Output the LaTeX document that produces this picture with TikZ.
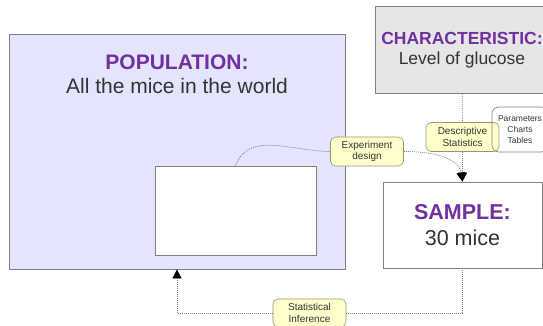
\documentclass[tikz,border=0pt]{standalone}
\usepackage{fontspec}
\setmainfont{Liberation Sans}
\usetikzlibrary{arrows.meta}
\definecolor{popfill}{RGB}{228,228,252}
\definecolor{charfill}{RGB}{230,230,230}
\definecolor{tagfill}{RGB}{255,255,204}
\definecolor{tagline}{RGB}{150,150,110}
\definecolor{boxline}{RGB}{128,128,128}
\definecolor{titlepurple}{RGB}{112,48,160}
\definecolor{textgray}{RGB}{51,51,51}
\tikzset{
    bigbox/.style = {rectangle, draw=boxline, line width=0.8pt, inner sep=0pt, align=center, text=textgray},
    popbox/.style = {bigbox, fill=popfill},
    whitebox/.style = {bigbox, fill=white},
    charbox/.style = {bigbox, fill=charfill, font=\fontsize{17.5}{20}\selectfont},
    samplebox/.style = {bigbox, fill=white, font=\fontsize{21.5}{26}\selectfont},
    poptext/.style = {inner sep=0pt, align=center, text=textgray, font=\fontsize{21}{24}\selectfont},
    tag/.style = {rectangle, rounded corners=5pt, draw=tagline, fill=tagfill, line width=0.6pt, inner sep=0pt,
                  minimum width=73pt, minimum height=29pt, align=center, text=textgray, font=\fontsize{10}{11.5}\selectfont},
    listbox/.style = {rectangle, rounded corners=7pt, draw=boxline, line width=0.6pt, inner sep=0pt,
                      minimum width=56pt, minimum height=45pt, align=center, text=textgray, font=\fontsize{8.5}{11}\selectfont},
    edged/.style = {draw=gray, line width=0.7pt, dash pattern=on 1pt off 1pt},
    edgea/.style = {edged, -{Triangle[length=9pt,width=9pt,color=black]}},
}
\newcommand{\ttl}[1]{\textcolor{titlepurple}{\textbf{#1}}}

\begin{document}
\begin{tikzpicture}[x=1pt,y=1pt]
\useasboundingbox (0,0) rectangle (543,326);
\clip (0,0) rectangle (543,326);
%
\node[popbox, minimum width=336pt, minimum height=235pt] at (177,174.5) (pop) {};
\node[poptext, anchor=north] at ([yshift=-21pt]pop.north) (poptitle) {\ttl{POPULATION:}\\All the mice in the world};
\node[whitebox, minimum width=161pt, minimum height=89pt] at (235.5,115.5) (subset) {};
\node[charbox, minimum width=174pt, minimum height=87pt] at (462,276) (char) {\ttl{CHARACTERISTIC:}\\Level of glucose};
\node[samplebox, minimum width=159pt, minimum height=86pt] at (462.5,101) (sample) {\ttl{SAMPLE:}\\30 mice};
\node[tag] at (462.5,189) (desc) {Descriptive\\Statistics};
\node[listbox] at (520,196.5) (list) {Parameters\\Charts\\Tables};
\node[tag] at (367,174.5) (exp) {Experiment\\design};
\node[tag, minimum height=28pt] at (309.5,13) (inf) {Statistical\\Inference};
%
\draw[edged] (char) -- (desc);
\draw[edgea] (desc) -- (sample);
\draw[edged] (subset.north) to[out=70,in=180] (exp.west);
\draw[edgea] (exp.east) to[out=0,in=100] (sample.north);
\draw[edged] (sample.south) |- (inf.east);
\draw[edgea] (inf.west) -| (pop.south);
\end{tikzpicture}
\end{document}
